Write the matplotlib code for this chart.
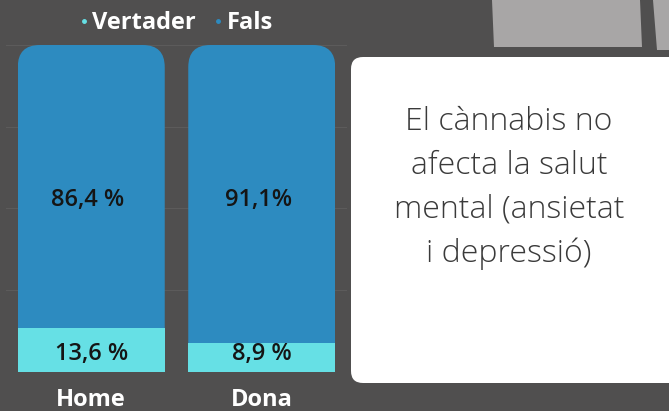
import matplotlib.pyplot as plt
from matplotlib.patches import FancyBboxPatch, Polygon
from matplotlib.lines import Line2D

# dades
grups = ['Home', 'Dona']
vertader = [13.6, 8.9]
fals = [86.4, 91.1]
etiq_vertader = ['13,6 %', '8,9 %']
etiq_fals = ['86,4 %', '91,1%']
text_caixa = 'El cànnabis no\nafecta la salut\nmental (ansietat\ni depressió)'

fons = '#504f4f'
blau = '#2d8bc0'
cian = '#66e0e5'

fig = plt.figure(figsize=(6.69, 4.11), dpi=100)
fig.patch.set_facecolor(fons)

W, H = 669, 411
ax = fig.add_axes([6 / W, 39 / H, 341 / W, 327 / H])
ax.set_facecolor(fons)
x = range(len(grups))
amplada = 0.862

barres_v = ax.bar(x, vertader, width=amplada, color=cian, zorder=3)
barres_f = ax.bar(x, fals, bottom=vertader, width=amplada, color=blau, zorder=2)

ax.set_xlim(-0.5, 1.5)
ax.set_ylim(0, 100)

# cantonades arrodonides a dalt de les barres blaves
px_x = 341 / 2.0      # pixels per unitat x
px_y = 327 / 100.0    # pixels per unitat y
radi = 22 / px_x
for b in barres_f:
    clip = FancyBboxPatch((b.get_x(), b.get_y() - 20), b.get_width(), b.get_height() + 20,
                          boxstyle=f'round,pad=0,rounding_size={radi}',
                          mutation_aspect=px_x / px_y,
                          transform=ax.transData, facecolor='none', edgecolor='none')
    ax.add_patch(clip)
    b.set_clip_path(clip)

for i in x:
    ax.text(i - 0.02, 52.5, etiq_fals[i], ha='center', va='center', fontsize=17,
            fontweight='semibold', family='Open Sans', color='#151515', zorder=5)
    ax.text(i, 5.5, etiq_vertader[i], ha='center', va='center', fontsize=17,
            fontweight='semibold', family='Open Sans', color='#151515', zorder=5)

ax.set_yticks([0, 25, 50, 75, 100])
ax.yaxis.grid(True, color='#5c5b5b', linewidth=0.8, zorder=0)
ax.tick_params(axis='y', left=False, labelleft=False)
ax.tick_params(axis='x', bottom=False, pad=8)
ax.set_xticks(list(x))
ax.set_xticklabels(grups, fontsize=17, fontweight='bold', family='Open Sans', color='white')
for s in ax.spines.values():
    s.set_visible(False)

handles = [Line2D([], [], marker='o', linestyle='', markersize=2.5, color=cian),
           Line2D([], [], marker='o', linestyle='', markersize=2.5, color=blau)]
leg = ax.legend(handles, ['Vertader', 'Fals'], loc='lower center', bbox_to_anchor=(0.5, 0.965),
                ncol=2, frameon=False, handlelength=0.3, handletextpad=0.2, columnspacing=0.8,
                prop={'family': 'Open Sans', 'weight': 'bold', 'size': 17})
for t in leg.get_texts():
    t.set_color('white')

# formes grises de dalt a la dreta
fig.patches.append(Polygon([[492 / W, 1], [640 / W, 1], [642 / W, 1 - 47 / H], [494 / W, 1 - 47 / H]],
                           closed=True, transform=fig.transFigure, facecolor='#a8a6a6', edgecolor='none'))
fig.patches.append(Polygon([[653 / W, 1], [669 / W, 1], [669 / W, 1 - 50 / H], [657 / W, 1 - 50 / H]],
                           closed=True, transform=fig.transFigure, facecolor='#a8a6a6', edgecolor='none'))

# caixa blanca amb el text
caixa = FancyBboxPatch((351 / W, 1 - 383 / H), 340 / W, 326 / H,
                       boxstyle=f'round,pad=0,rounding_size={12 / W}', mutation_aspect=W / H,
                       transform=fig.transFigure, facecolor='white', edgecolor='none')
fig.patches.append(caixa)
fig.text(509 / W, 1 - 188 / H, text_caixa, ha='center', va='center', fontsize=23,
         family='Open Sans', fontweight='light', color='#3a3a3a', linespacing=1.5)

fig.savefig('out.png', dpi=100, facecolor=fons)
